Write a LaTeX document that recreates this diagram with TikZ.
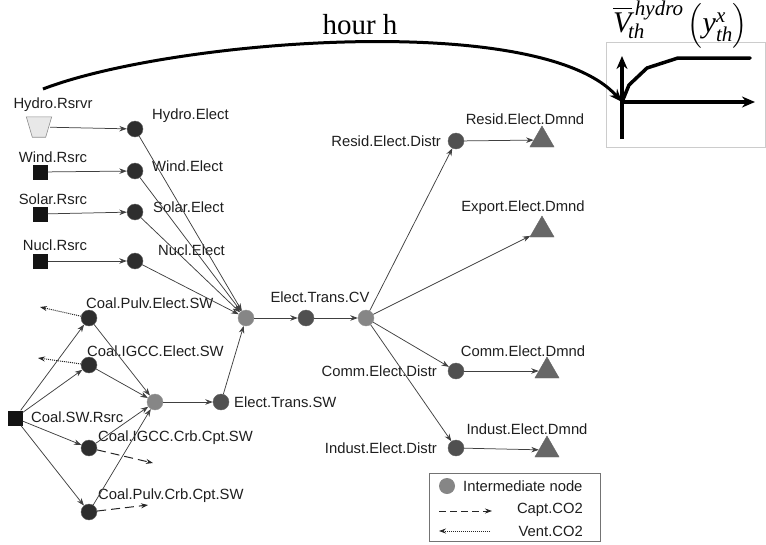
\documentclass[tikz,border=0pt]{standalone}
\usepackage{amsmath}
\usepackage{fontspec}
\setmainfont{Liberation Sans}
\newfontfamily\seriffam{Liberation Serif}
\usetikzlibrary{shapes.geometric,arrows.meta}

\definecolor{plantfill}{HTML}{2E2E2E}
\definecolor{carrierfill}{HTML}{505050}
\definecolor{midfill}{HTML}{868686}
\definecolor{demandfill}{HTML}{676767}
\definecolor{linkcol}{HTML}{404040}
\definecolor{labelcol}{HTML}{1E1E1E}

\tikzset{
  source/.style={rectangle, fill=black!92, minimum size=15, inner sep=0},
  reservoir/.style={rectangle, minimum width=22, minimum height=20, inner sep=0},
  reservoirshape/.style={fill=black!9, draw=black!45, line width=0.6pt},
  plant/.style={circle, fill=plantfill, draw=black!60, line width=0.4pt, minimum size=16, inner sep=0},
  carrier/.style={circle, fill=carrierfill, draw=black!60, line width=0.4pt, minimum size=16, inner sep=0},
  midnode/.style={circle, fill=midfill, draw=black!40, line width=0.4pt, minimum size=16, inner sep=0},
  demand/.style={regular polygon, regular polygon sides=3, fill=demandfill, draw=black!60,
    line width=0.4pt, minimum size=28, inner sep=0},
  lbl/.style={inner sep=0, text=labelcol, font=\fontsize{14.8}{17}\selectfont},
  link/.style={draw=linkcol, line width=0.75pt, -{Stealth[length=7.5pt,width=5.5pt]}},
  captflow/.style={draw=black!85, line width=1pt, dash pattern=on 9pt off 5pt, -{Stealth[length=7pt,width=5pt]}},
  ventflow/.style={draw=black!85, line width=1pt, dash pattern=on 1pt off 1pt, -{Stealth[length=7pt,width=5pt]}},
  bold/.style={line width=3.5pt, line cap=round, line join=round},
  boldarrow/.style={bold, line cap=butt, -{Stealth[length=13pt,width=11pt]}}
}
\newcommand{\tm}[1]{\text{\seriffam\itshape #1}}

\begin{document}
\begin{tikzpicture}[x=1pt,y=-1pt]
\useasboundingbox (0,0) rectangle (766,544);

% ---------- resources ----------
\node[reservoir] (hydroR) at (39,127) {};
\filldraw[reservoirshape] ([xshift=-1.5pt]hydroR.north west) -- ([xshift=1.5pt]hydroR.north east)
  -- ([xshift=-4.5pt]hydroR.south east) -- ([xshift=4.5pt]hydroR.south west) -- cycle;
\node[source] (windR)  at (40,172) {};
\node[source] (solarR) at (40,214) {};
\node[source] (nuclR)  at (40,261) {};
\node[source] (coalR)  at (15,418) {};

% ---------- generation ----------
\node[plant] (hydroE) at (135,129) {};
\node[plant] (windE)  at (135,171) {};
\node[plant] (solarE) at (135,212) {};
\node[plant] (nuclE)  at (135,261) {};
\node[plant] (pulv)   at (89,318) {};
\node[plant] (igcc)   at (89,365) {};
\node[plant] (igccC)  at (89,448) {};
\node[plant] (pulvC)  at (89,512) {};

% ---------- transmission and distribution ----------
\node[midnode] (hubCV) at (246,318) {};
\node[midnode] (hubSW) at (155,402) {};
\node[midnode] (hubD)  at (366,318) {};
\node[carrier] (transCV) at (306,318) {};
\node[carrier] (transSW) at (221,402) {};
\node[carrier] (resD) at (456,141) {};
\node[carrier] (comD) at (456,371) {};
\node[carrier] (indD) at (456,448) {};

% ---------- demands ----------
\node[demand] (resM) at (542,140) {};
\node[demand] (expM) at (542,230) {};
\node[demand] (comM) at (547,371) {};
\node[demand] (indM) at (547,450) {};

% ---------- labels ----------
\node[lbl] (hydroRl) at (53,105) {Hydro.Rsrvr};
\node[lbl] (windRl)  at (53,157) {Wind.Rsrc};
\node[lbl] (solarRl) at (53,199) {Solar.Rsrc};
\node[lbl] (nuclRl)  at (55,245) {Nucl.Rsrc};
\node[lbl, anchor=west] (hydroEl) at (152,116) {Hydro.Elect};
\node[lbl, anchor=west] (windEl)  at (152,166) {Wind.Elect};
\node[lbl, anchor=west] (solarEl) at (153,207) {Solar.Elect};
\node[lbl, anchor=west] (nuclEl)  at (158,250) {Nucl.Elect};
\node[lbl, anchor=west] (pulvl)   at (86,303) {Coal.Pulv.Elect.SW};
\node[lbl, anchor=west] (igccl)   at (87,351) {Coal.IGCC.Elect.SW};
\node[lbl, anchor=west] (coalRl)  at (31,417) {Coal.SW.Rsrc};
\node[lbl, anchor=west] (igccCl)  at (98,438) {Coal.IGCC.Crb.Cpt.SW};
\node[lbl, anchor=west] (pulvCl)  at (98,496) {Coal.Pulv.Crb.Cpt.SW};
\node[lbl, anchor=west] (transSWl) at (234,402) {Elect.Trans.SW};
\node[lbl] (transCVl) at (320,297) {Elect.Trans.CV};
\node[lbl, anchor=east] (resDl) at (441,141) {Resid.Elect.Distr};
\node[lbl, anchor=east] (comDl) at (437,371) {Comm.Elect.Distr};
\node[lbl, anchor=east] (indDl) at (437,448) {Indust.Elect.Distr};
\node[lbl] (resMl) at (525,119) {Resid.Elect.Dmnd};
\node[lbl] (expMl) at (523,208) {Export.Elect.Dmnd};
\node[lbl] (comMl) at (523,351) {Comm.Elect.Dmnd};
\node[lbl] (indMl) at (527,429) {Indust.Elect.Dmnd};

% ---------- flows ----------
\draw[link] (hydroR) -- (hydroE);
\draw[link] (windR)  -- (windE);
\draw[link] (solarR) -- (solarE);
\draw[link] (nuclR)  -- (nuclE);
\foreach \p in {hydroE,windE,solarE,nuclE} \draw[link] (\p) -- (hubCV);
\foreach \p in {pulv,igcc,igccC,pulvC} {
  \draw[link] (coalR) -- (\p);
  \draw[link] (\p) -- (hubSW);
}
\draw[link] (hubSW) -- (transSW);
\draw[link] (transSW) -- (hubCV);
\draw[link] (hubCV) -- (transCV);
\draw[link] (transCV) -- (hubD);
\draw[link] (hubD) -- (resD);
\draw[link] (hubD) -- (expM);
\draw[link] (hubD) -- (comD);
\draw[link] (hubD) -- (indD);
\draw[link] (resD) -- (resM);
\draw[link] (comD) -- (comM);
\draw[link] (indD) -- (indM);

% ---------- CO2 streams ----------
\coordinate (ventA) at (40,307);
\coordinate (ventB) at (38,358);
\coordinate (captA) at (153,463);
\coordinate (captB) at (148,505);
\draw[ventflow] (pulv) -- (ventA);
\draw[ventflow] (igcc) -- (ventB);
\draw[captflow] (igccC) -- (captA);
\draw[captflow] (pulvC) -- (captB);

% ---------- legend ----------
\node[draw=black!55, line width=0.6pt, rectangle, minimum width=171, minimum height=68,
      anchor=north west, inner sep=0] (legend) at (429,473) {};
\node[midnode, draw=none] (legmid) at (447,486) {};
\node[lbl, anchor=west] (legmidl) at (463,486) {Intermediate node};
\coordinate (legcapA) at (439,511);
\coordinate (legcapB) at (492,511);
\coordinate (legventA) at (490,531);
\coordinate (legventB) at (439,531);
\draw[captflow, line width=0.8pt, dash pattern=on 7pt off 4pt] (legcapA) -- (legcapB);
\draw[ventflow, line width=0.8pt] (legventA) -- (legventB);
\node[lbl, anchor=east] (legcapl) at (583,510) {Capt.CO2};
\node[lbl, anchor=east] (legventl) at (583,531) {Vent.CO2};

% ---------- hourly storage value curve ----------
\node[draw=black!20, line width=0.8pt, rectangle, minimum width=159, minimum height=105,
      anchor=north west, inner sep=0] (plotbox) at (606,42) {};
\coordinate (origin) at (622,102);
\coordinate (ybot) at (622,139);
\coordinate (ytop) at (622,56);
\coordinate (xend) at (755,102);
\draw[boldarrow] (ybot) -- (ytop);
\draw[boldarrow] (origin) -- (xend);
\draw[bold] (origin) -- (629,85) -- (647,68) -- (678,58) -- (750,58);

\node[inner sep=0, anchor=base west] (vlabel) at (613,32)
  {\fontsize{30}{34}\selectfont
   $\overline{\tm{V}}_{\!\tm{th}}^{\,\tm{hydro}}\,
    \Bigl(\tm{y}_{\tm{th}}^{\tm{x}}\Bigr)$};

% ---------- hour link ----------
\node[inner sep=0, font=\seriffam\fontsize{29}{32}\selectfont] (hourl) at (360,25) {hour h};
\coordinate (arcstart) at (43,89);
\draw[line width=3pt, -{Stealth[length=13pt,width=10pt]}]
  (arcstart) .. controls (170,40) and (540,10) .. (origin);
\end{tikzpicture}
\end{document}
